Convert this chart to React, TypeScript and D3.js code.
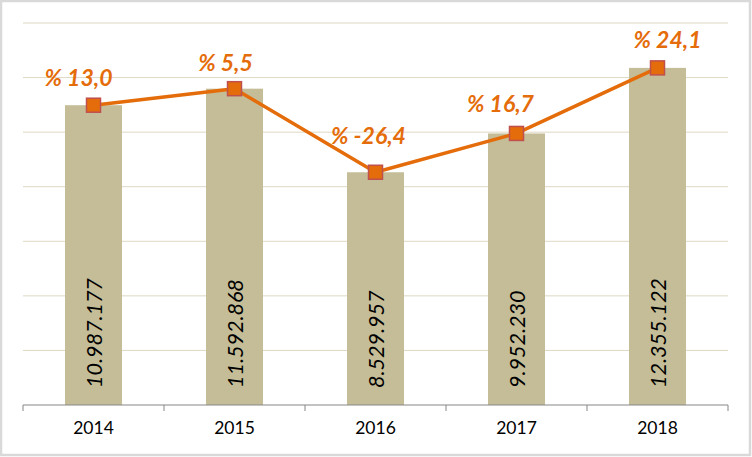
import React from "react";
import * as d3 from "d3";

const years = ["2014", "2015", "2016", "2017", "2018"];
const amounts = [10987177, 11592868, 8529957, 9952230, 12355122];
const amountLabels = ["10.987.177", "11.592.868", "8.529.957", "9.952.230", "12.355.122"];
const growthLabels = ["% 13,0", "% 5,5", "% -26,4", "% 16,7", "% 24,1"];
const yTicks = [0, 2000000, 4000000, 6000000, 8000000, 10000000, 12000000, 14000000];

// label layout offsets (style, not data)
const labelDx = [-15, -9, -7, -16, 10];
const labelDy = [-28, -27, -37, -30, -29];

const W = 752;
const H = 457;
const m = { left: 23, right: 24, top: 23, bottom: 52 };

export default function App() {
  const band = d3.scaleBand<string>().domain(years).range([m.left, W - m.right]);
  const y = d3.scaleLinear().domain([0, 14000000]).range([H - m.bottom, m.top]);
  const cx = (yr: string) => (band(yr) as number) + band.bandwidth() / 2;
  const line = d3.line<number>().x((_, i) => cx(years[i])).y((v) => y(v));
  const bw = 57;
  const orange = "#E46C0A";
  return (
    <svg width={W} height={H} style={{ position: "absolute", left: 0, top: 0, background: "#fff" }}>
      <rect x={1} y={1} width={W - 3} height={H - 3} fill="#fff" stroke="#D9D9D9" strokeWidth={2.5} />
      {yTicks.slice(1).map((t) => (
        <line key={t} x1={m.left} x2={W - m.right} y1={y(t)} y2={y(t)} stroke="#DDD9C3" strokeWidth={1} />
      ))}
      {years.map((yr, i) => (
        <rect key={yr} x={cx(yr) - bw / 2} y={y(amounts[i])} width={bw} height={y(0) - y(amounts[i])} fill="#C4BD97" />
      ))}
      <line x1={m.left} x2={W - m.right} y1={y(0)} y2={y(0)} stroke="#868686" strokeWidth={1} />
      {d3.range(years.length + 1).map((i) => {
        const xx = m.left + i * band.step();
        return <line key={i} x1={xx} x2={xx} y1={y(0)} y2={y(0) + 6} stroke="#868686" strokeWidth={1} />;
      })}
      {years.map((yr) => (
        <text key={yr} x={cx(yr)} y={y(0) + 29} textAnchor="middle" fontFamily="Lato, 'Open Sans', sans-serif" fontSize={17.5} fill="#000">
          {yr}
        </text>
      ))}
      {years.map((yr, i) => (
        <text
          key={yr}
          transform={`translate(${cx(yr)},${y(0) - 17}) rotate(-90)`}
          textAnchor="start"
          dominantBaseline="central"
          fontFamily="Lato, 'Open Sans', sans-serif"
          fontStyle="italic"
          fontSize={21.5}
          fill="#000"
        >
          {amountLabels[i]}
        </text>
      ))}
      <path d={line(amounts) as string} fill="none" stroke={orange} strokeWidth={3.5} strokeLinejoin="round" />
      {years.map((yr, i) => (
        <rect key={yr} x={cx(yr) - 7} y={y(amounts[i]) - 7} width={14} height={14} fill={orange} stroke="#C0504D" strokeWidth={1.5} />
      ))}
      {years.map((yr, i) => (
        <text
          key={yr}
          x={cx(yr) + labelDx[i]}
          y={y(amounts[i]) + labelDy[i]}
          textAnchor="middle"
          dominantBaseline="central"
          fontFamily="Lato, 'Open Sans', sans-serif"
          fontStyle="italic"
          fontWeight="bold"
          fontSize={23}
          fill={orange}
        >
          {growthLabels[i]}
        </text>
      ))}
    </svg>
  );
}
